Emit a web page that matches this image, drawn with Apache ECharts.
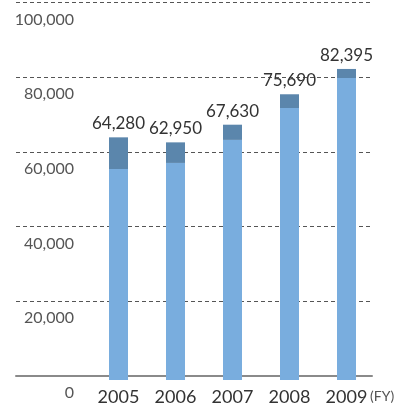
<!DOCTYPE html>
<html><head><meta charset="utf-8">
<script src="https://cdn.jsdelivr.net/npm/echarts@6/dist/echarts.min.js"></script>
<style>html,body{margin:0;padding:0;background:#fff}#c{width:409px;height:410px}</style>
</head><body><div id="c"></div>
<script>
const categories = ['2005', '2006', '2007', '2008', '2009'];
const totals = [64280, 62950, 67630, 75690, 82395];
const baseValues = [55900, 57500, 63600, 72050, 80000];
const topValues = totals.map((t, i) => t - baseValues[i]);
const yTicks = [0, 20000, 40000, 60000, 80000, 100000];
const unitLabel = '(FY)';

const FONT = 'Lato, "Open Sans", sans-serif';
const chart = echarts.init(document.getElementById('c'));
chart.setOption({
  animation: false,
  grid: [
    {left: 16, right: 37, top: 2.5, bottom: 30},
    {left: 90, right: 34, top: 2.5, bottom: 30}
  ],
  xAxis: [
    {gridIndex: 0, type: 'value', min: 0, max: 1, show: true,
     axisLine: {show: true, onZero: false, lineStyle: {color: '#8a8a8a', width: 2}},
     axisTick: {show: false}, axisLabel: {show: false}, splitLine: {show: false}},
    {gridIndex: 1, type: 'category', data: categories,
     axisLine: {show: false}, axisTick: {show: false},
     axisLabel: {margin: 8, fontSize: 18, color: '#333', fontFamily: FONT}}
  ],
  yAxis: [
    {gridIndex: 0, type: 'value', min: yTicks[0], max: yTicks[yTicks.length - 1], interval: yTicks[1] - yTicks[0],
     axisLine: {show: false}, axisTick: {show: false},
     splitLine: {show: true, lineStyle: {color: '#555', width: 1, type: [4, 3]}},
     axisLabel: {margin: -58, align: 'right', verticalAlign: 'top', lineHeight: 34,
       fontSize: 16, color: '#555', fontFamily: FONT,
       formatter: v => v.toLocaleString('en-US')}},
    {gridIndex: 1, type: 'value', min: yTicks[0], max: yTicks[yTicks.length - 1], show: false, splitLine: {show: false}}
  ],
  series: [
    {type: 'bar', xAxisIndex: 1, yAxisIndex: 1, stack: 's', barWidth: 19, data: baseValues,
     itemStyle: {color: '#79ADDE'}},
    {type: 'bar', xAxisIndex: 1, yAxisIndex: 1, stack: 's', barWidth: 19, data: topValues,
     itemStyle: {color: '#5B86AC'},
     label: {show: true, position: 'top', distance: 5, fontSize: 17, color: '#333', fontFamily: FONT,
       formatter: p => totals[p.dataIndex].toLocaleString('en-US')}}
  ],
  graphic: [
    {type: 'text', left: 370, top: 389, style: {text: unitLabel, fontSize: 14, fill: '#555', fontFamily: FONT}}
  ]
});
</script></body></html>
